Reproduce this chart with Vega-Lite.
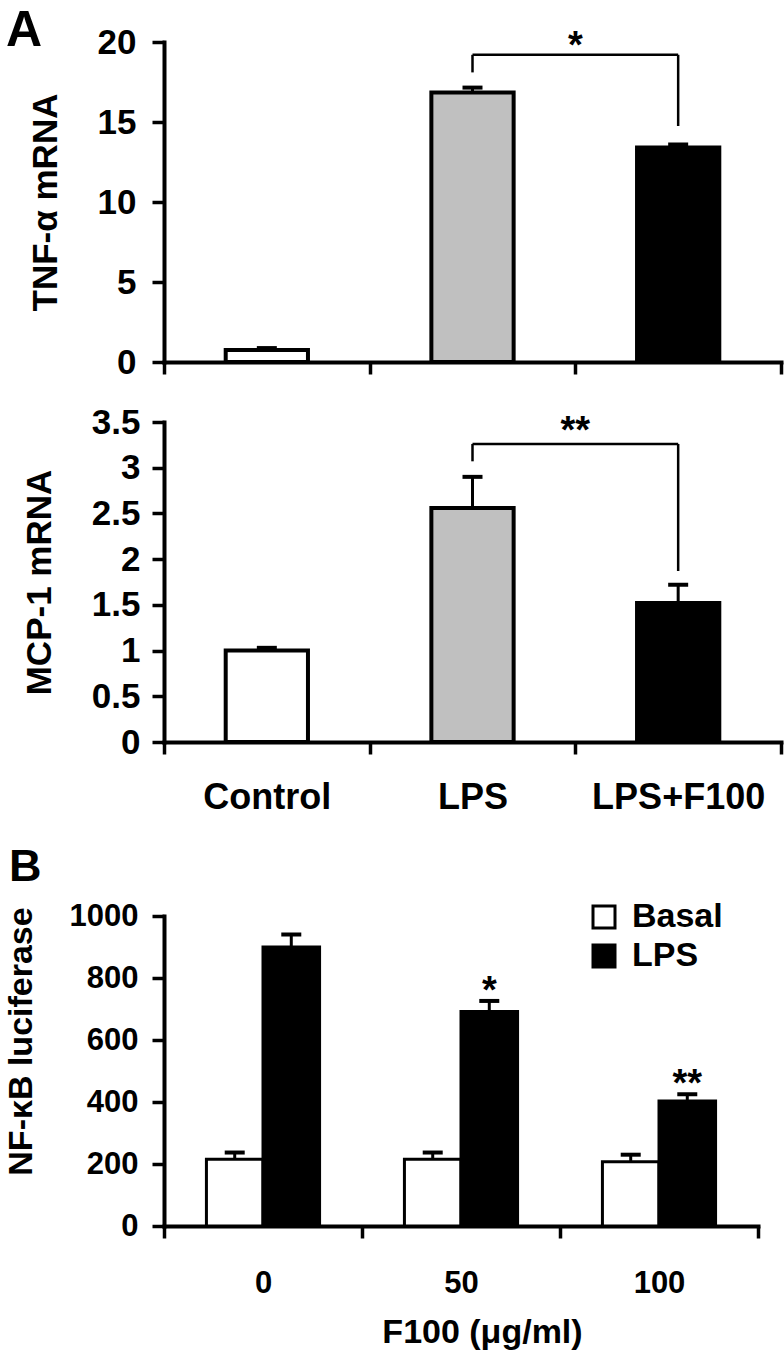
{
  "$schema": "https://vega.github.io/schema/vega-lite/v6.json",
  "padding": {"left": 4, "top": 6, "right": 5, "bottom": 5},
  "background": "white",
  "config": {
    "font": "Liberation Sans",
    "view": {"stroke": null},
    "axis": {
      "labelFontWeight": "bold", "titleFontWeight": "bold",
      "labelColor": "black", "titleColor": "black",
      "domainColor": "black", "tickColor": "black",
      "domainWidth": 4, "tickWidth": 3.5, "tickSize": 12,
      "grid": false, "domainCap": "square"
    },
    "title": {"fontWeight": "bold", "color": "black", "font": "Liberation Sans"},
    "legend": {
      "labelFontWeight": "bold", "labelColor": "black", "labelFontSize": 34,
      "symbolType": "square", "symbolSize": 484, "symbolStrokeWidth": 3,
      "symbolStrokeColor": "black", "rowPadding": 5, "labelOffset": 11
    },
    "text": {"font": "Liberation Sans", "fontWeight": "bold"}
  },
  "datasets": {
    "tnf": [
      {"group": "Control", "mean": 0.75, "upper": 0.87},
      {"group": "LPS", "mean": 16.85, "upper": 17.15},
      {"group": "LPS+F100", "mean": 13.4, "upper": 13.6}
    ],
    "tnf_br": [
      {"from": "LPS", "to": "LPS+F100", "y1": 19.2, "y2": 19.2},
      {"from": "LPS", "to": "LPS", "y1": 18.1, "y2": 19.2},
      {"from": "LPS+F100", "to": "LPS+F100", "y1": 14.75, "y2": 19.2}
    ],
    "tnf_sig": [{"left": "LPS", "label": "*", "y": 19.2}],
    "mcp": [
      {"group": "Control", "mean": 1.0, "upper": 1.03},
      {"group": "LPS", "mean": 2.56, "upper": 2.9},
      {"group": "LPS+F100", "mean": 1.52, "upper": 1.72}
    ],
    "mcp_br": [
      {"from": "LPS", "to": "LPS+F100", "y1": 3.26, "y2": 3.26},
      {"from": "LPS", "to": "LPS", "y1": 3.07, "y2": 3.26},
      {"from": "LPS+F100", "to": "LPS+F100", "y1": 1.87, "y2": 3.26}
    ],
    "mcp_sig": [{"left": "LPS", "label": "**", "y": 3.26}],
    "nfkb": [
      {"dose": "0", "treatment": "Basal", "mean": 215, "upper": 237, "sig": ""},
      {"dose": "0", "treatment": "LPS", "mean": 900, "upper": 940, "sig": ""},
      {"dose": "50", "treatment": "Basal", "mean": 215, "upper": 237, "sig": ""},
      {"dose": "50", "treatment": "LPS", "mean": 692, "upper": 726, "sig": "*"},
      {"dose": "100", "treatment": "Basal", "mean": 207, "upper": 230, "sig": ""},
      {"dose": "100", "treatment": "LPS", "mean": 403, "upper": 425, "sig": "**"}
    ]
  },
  "resolve": {"scale": {"fill": "independent"}, "legend": {"fill": "independent"}},
  "bounds": "full",
  "spacing": 30,
  "vconcat": [
    {
      "bounds": "flush",
      "spacing": 60,
      "vconcat": [
        {
          "width": 617, "height": 320,
          "title": {"text": "A", "anchor": "start", "frame": "group", "fontSize": 50, "dx": -158, "offset": -31},
          "layer": [
            {
              "data": {"name": "tnf"},
              "mark": {"type": "bar", "stroke": "black", "strokeWidth": 4, "width": {"band": 0.4}},
              "encoding": {
                "x": {"field": "group", "type": "nominal", "sort": ["Control", "LPS", "LPS+F100"],
                  "scale": {"paddingInner": 0, "paddingOuter": 0},
                  "axis": {"labels": false, "title": null, "tickBand": "extent"}},
                "y": {"field": "mean", "type": "quantitative", "scale": {"domain": [0, 20], "nice": false},
                  "axis": {"values": [0, 5, 10, 15, 20], "labelFontSize": 35, "labelPadding": 16,
                    "title": "TNF-α mRNA", "titleFontSize": 35, "titlePadding": 34}},
                "fill": {"field": "group", "type": "nominal",
                  "scale": {"domain": ["Control", "LPS", "LPS+F100"], "range": ["white", "#c0c0c0", "black"]},
                  "legend": null}
              }
            },
            {
              "data": {"name": "tnf"},
              "mark": {"type": "rule", "strokeWidth": 3, "color": "black"},
              "encoding": {
                "x": {"field": "group", "type": "nominal", "sort": ["Control", "LPS", "LPS+F100"]},
                "y": {"field": "mean", "type": "quantitative"},
                "y2": {"field": "upper"}
              }
            },
            {
              "data": {"name": "tnf"},
              "mark": {"type": "tick", "thickness": 4, "size": 20, "color": "black", "opacity": 1},
              "encoding": {
                "x": {"field": "group", "type": "nominal", "sort": ["Control", "LPS", "LPS+F100"]},
                "y": {"field": "upper", "type": "quantitative"}
              }
            },
            {
              "data": {"name": "tnf_br"},
              "mark": {"type": "rule", "strokeWidth": 2.5, "color": "black"},
              "encoding": {
                "x": {"field": "from", "type": "nominal", "sort": ["Control", "LPS", "LPS+F100"]},
                "x2": {"field": "to"},
                "y": {"field": "y1", "type": "quantitative"},
                "y2": {"field": "y2"}
              }
            },
            {
              "data": {"name": "tnf_sig"},
              "mark": {"type": "text", "fontSize": 38, "baseline": "alphabetic", "dy": 3, "align": "center"},
              "encoding": {
                "x": {"field": "left", "type": "nominal", "sort": ["Control", "LPS", "LPS+F100"], "bandPosition": 1},
                "y": {"field": "y", "type": "quantitative"},
                "text": {"field": "label"}
              }
            }
          ]
        },
        {
          "width": 617, "height": 320,
          "layer": [
            {
              "data": {"name": "mcp"},
              "mark": {"type": "bar", "stroke": "black", "strokeWidth": 4, "width": {"band": 0.4}},
              "encoding": {
                "x": {"field": "group", "type": "nominal", "sort": ["Control", "LPS", "LPS+F100"],
                  "scale": {"paddingInner": 0, "paddingOuter": 0},
                  "axis": {"title": null, "tickBand": "extent", "labelAngle": 0, "labelFontSize": 36, "labelPadding": 26}},
                "y": {"field": "mean", "type": "quantitative", "scale": {"domain": [0, 3.5], "nice": false},
                  "axis": {"values": [0, 0.5, 1, 1.5, 2, 2.5, 3, 3.5], "format": "~g", "labelFontSize": 35, "labelPadding": 12,
                    "title": "MCP-1 mRNA", "titleFontSize": 35, "titlePadding": 34}},
                "fill": {"field": "group", "type": "nominal",
                  "scale": {"domain": ["Control", "LPS", "LPS+F100"], "range": ["white", "#c0c0c0", "black"]},
                  "legend": null}
              }
            },
            {
              "data": {"name": "mcp"},
              "mark": {"type": "rule", "strokeWidth": 3, "color": "black"},
              "encoding": {
                "x": {"field": "group", "type": "nominal", "sort": ["Control", "LPS", "LPS+F100"]},
                "y": {"field": "mean", "type": "quantitative"},
                "y2": {"field": "upper"}
              }
            },
            {
              "data": {"name": "mcp"},
              "mark": {"type": "tick", "thickness": 4, "size": 20, "color": "black", "opacity": 1},
              "encoding": {
                "x": {"field": "group", "type": "nominal", "sort": ["Control", "LPS", "LPS+F100"]},
                "y": {"field": "upper", "type": "quantitative"}
              }
            },
            {
              "data": {"name": "mcp_br"},
              "mark": {"type": "rule", "strokeWidth": 2.5, "color": "black"},
              "encoding": {
                "x": {"field": "from", "type": "nominal", "sort": ["Control", "LPS", "LPS+F100"]},
                "x2": {"field": "to"},
                "y": {"field": "y1", "type": "quantitative"},
                "y2": {"field": "y2"}
              }
            },
            {
              "data": {"name": "mcp_sig"},
              "mark": {"type": "text", "fontSize": 38, "baseline": "alphabetic", "dy": -1, "align": "center"},
              "encoding": {
                "x": {"field": "left", "type": "nominal", "sort": ["Control", "LPS", "LPS+F100"], "bandPosition": 1},
                "y": {"field": "y", "type": "quantitative"},
                "text": {"field": "label"}
              }
            }
          ]
        }
      ]
    },
    {
      "width": 594, "height": 310,
      "title": {"text": "B", "anchor": "start", "frame": "group", "fontSize": 45, "dx": -155, "offset": 10},
      "data": {"name": "nfkb"},
      "layer": [
        {
          "mark": {"type": "bar", "stroke": "black", "strokeWidth": 3},
          "encoding": {
            "x": {"field": "dose", "type": "nominal", "sort": ["0", "50", "100"],
              "scale": {"paddingInner": 0, "paddingOuter": 0},
              "axis": {"title": "F100 (μg/ml)", "tickBand": "extent", "labelAngle": 0, "labelFontSize": 31,
                "labelPadding": 30, "titleFontSize": 34, "titlePadding": 17, "titleX": 318}},
            "xOffset": {"field": "treatment", "type": "nominal", "sort": ["Basal", "LPS"],
              "scale": {"paddingInner": 0, "paddingOuter": 0.75}},
            "y": {"field": "mean", "type": "quantitative", "scale": {"domain": [0, 1000], "nice": false},
              "axis": {"values": [0, 200, 400, 600, 800, 1000], "format": "d", "labelFontSize": 31, "labelPadding": 14,
                "title": "NF-κB luciferase", "titleFontSize": 34, "titlePadding": 31, "titleY": 125}},
            "fill": {"field": "treatment", "type": "nominal",
              "scale": {"domain": ["Basal", "LPS"], "range": ["white", "black"]},
              "legend": {"orient": "none", "legendX": 423, "legendY": -16, "title": null}}
          }
        },
        {
          "mark": {"type": "rule", "strokeWidth": 3, "color": "black"},
          "encoding": {
            "x": {"field": "dose", "type": "nominal", "sort": ["0", "50", "100"]},
            "xOffset": {"field": "treatment", "type": "nominal", "sort": ["Basal", "LPS"]},
            "y": {"field": "mean", "type": "quantitative"},
            "y2": {"field": "upper"}
          }
        },
        {
          "mark": {"type": "tick", "thickness": 4, "size": 20, "color": "black", "opacity": 1},
          "encoding": {
            "x": {"field": "dose", "type": "nominal", "sort": ["0", "50", "100"]},
            "xOffset": {"field": "treatment", "type": "nominal", "sort": ["Basal", "LPS"]},
            "y": {"field": "upper", "type": "quantitative"}
          }
        },
        {
          "mark": {"type": "text", "fontSize": 38, "baseline": "alphabetic", "dy": 2, "align": "center"},
          "encoding": {
            "x": {"field": "dose", "type": "nominal", "sort": ["0", "50", "100"]},
            "xOffset": {"field": "treatment", "type": "nominal", "sort": ["Basal", "LPS"]},
            "y": {"field": "upper", "type": "quantitative"},
            "text": {"field": "sig"}
          }
        }
      ]
    }
  ]
}
